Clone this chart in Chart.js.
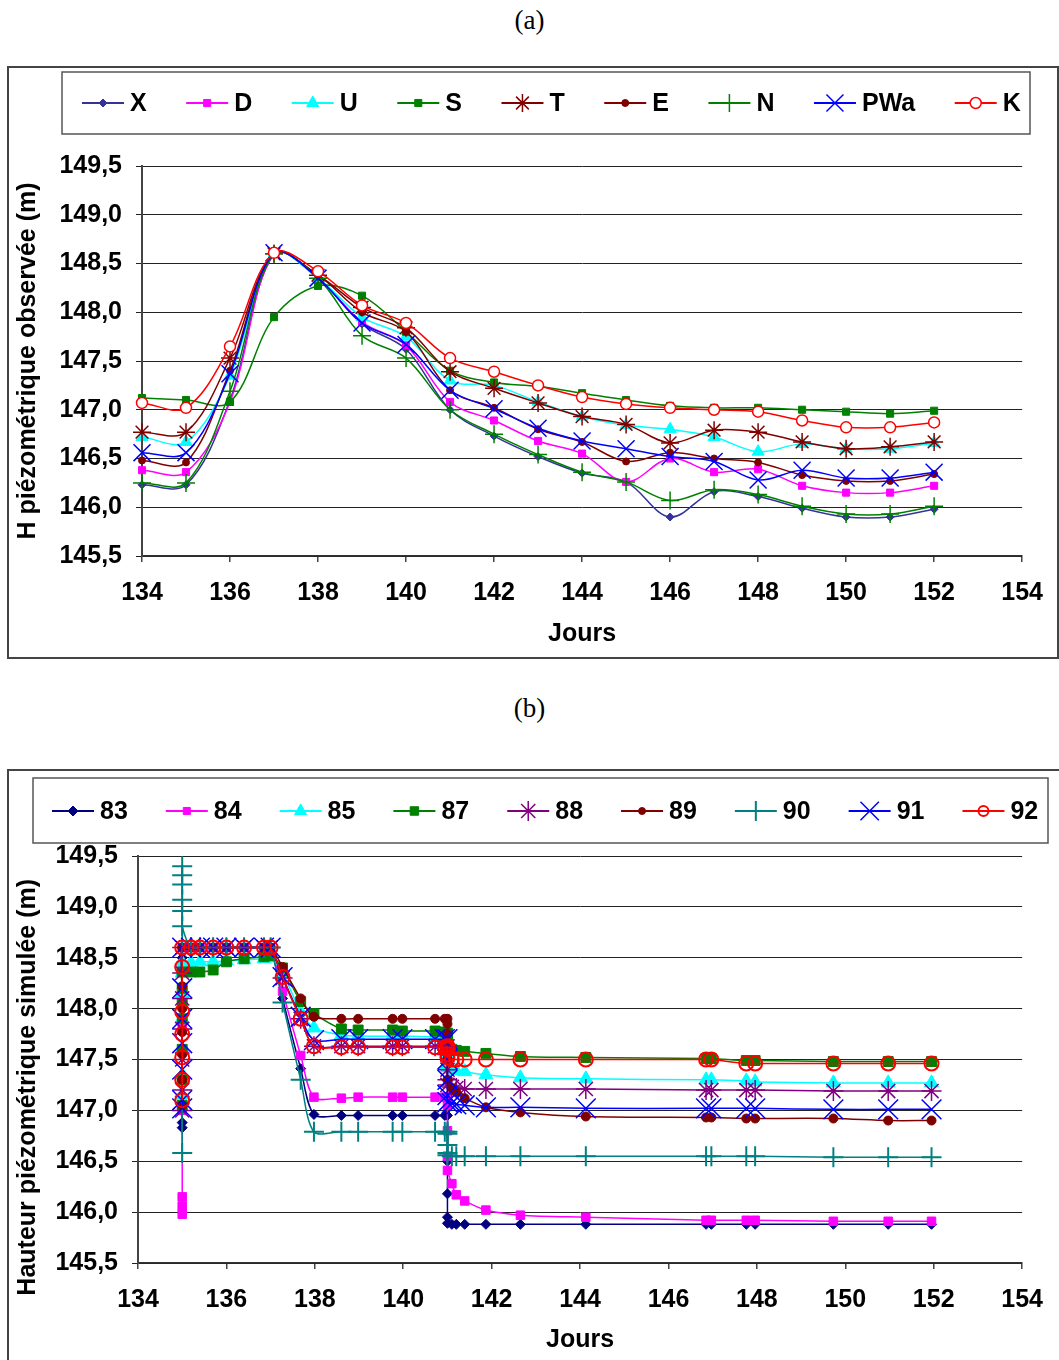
<!DOCTYPE html>
<html lang="fr">
<head>
<meta charset="utf-8">
<title>Hauteurs piézométriques observées et simulées</title>
<script src="https://cdn.jsdelivr.net/npm/chart.js@4.4.1/dist/chart.umd.min.js"></script>
<style>
  html, body { margin: 0; padding: 0; background: #fff; }
  body { width: 1059px; height: 1360px; position: relative; overflow: hidden; }
  .caption { position: absolute; left: 0; width: 1059px; text-align: center;
             font-family: "Liberation Serif", "Times New Roman", serif; font-size: 27px; line-height: 30px; }
  .frame { position: absolute; border: 2px solid #444; box-sizing: border-box; }
  canvas { position: absolute; left: 0; }
</style>
</head>
<body>
<div class="caption" style="top:5px">(a)</div>
<div class="frame" style="left:7px;top:66px;width:1052px;height:593px"></div>
<canvas id="chartA" width="1059" height="640" style="top:40px"></canvas>

<div class="caption" style="top:693px">(b)</div>
<div class="frame" style="left:7px;top:769px;width:1060px;height:600px"></div>
<canvas id="chartB" width="1059" height="620" style="top:740px"></canvas>

<script>
// ---- (a) observed heads, one value per day ----
const daysA = [134, 135, 136, 137, 138, 139, 140, 141, 142, 143, 144, 145, 146, 147, 148, 149, 150, 151, 152];
const obsX   = [146.23, 146.23, 147.10, 148.60, 148.35, 147.88, 147.62, 147.00, 146.73, 146.52, 146.35, 146.26, 145.90, 146.16, 146.11, 145.99, 145.90, 145.90, 145.98];
const obsD   = [146.38, 146.36, 147.08, 148.60, 148.35, 147.90, 147.66, 147.08, 146.89, 146.68, 146.55, 146.26, 146.50, 146.36, 146.39, 146.22, 146.15, 146.15, 146.22];
const obsU   = [146.72, 146.67, 147.35, 148.60, 148.35, 147.95, 147.75, 147.30, 147.25, 147.08, 146.93, 146.84, 146.80, 146.72, 146.57, 146.65, 146.60, 146.60, 146.66];
const obsS   = [147.12, 147.10, 147.08, 147.95, 148.27, 148.17, 147.80, 147.40, 147.28, 147.24, 147.17, 147.10, 147.04, 147.02, 147.02, 147.00, 146.98, 146.96, 146.99];
const obsT   = [146.77, 146.77, 147.53, 148.60, 148.38, 148.05, 147.84, 147.39, 147.22, 147.07, 146.93, 146.85, 146.66, 146.79, 146.77, 146.67, 146.60, 146.62, 146.67];
const obsE   = [146.48, 146.46, 147.40, 148.60, 148.38, 148.00, 147.80, 147.20, 147.02, 146.80, 146.67, 146.47, 146.56, 146.50, 146.46, 146.33, 146.27, 146.27, 146.34];
const obsN   = [146.25, 146.25, 147.19, 148.60, 148.35, 147.76, 147.53, 147.00, 146.75, 146.54, 146.36, 146.26, 146.07, 146.18, 146.13, 146.01, 145.93, 145.93, 146.01];
const obsPWa = [146.56, 146.56, 147.37, 148.61, 148.35, 147.89, 147.67, 147.20, 147.01, 146.81, 146.68, 146.60, 146.52, 146.47, 146.28, 146.38, 146.30, 146.30, 146.36];
const obsK   = [147.07, 147.02, 147.65, 148.61, 148.42, 148.07, 147.89, 147.53, 147.39, 147.25, 147.13, 147.06, 147.02, 147.00, 146.98, 146.89, 146.82, 146.82, 146.87];

// ---- (b) simulated heads, model output times (several values at the 135 and 141 steps) ----
const daysB = [135, 135, 135, 135, 135, 135, 135,
  135.2, 135.4, 135.7, 136.0, 136.4, 136.85, 137.0,
  137.27, 137.68, 137.98,
  138.6, 138.98, 139.76, 139.98, 140.72, 140.94,
  141, 141, 141, 141, 141,
  141.1, 141.2, 141.39, 141.87, 142.65, 144.13,
  146.85, 146.97, 147.76, 147.96, 149.73, 150.97, 151.95];
const sim83 = [146.83, 146.88, 147.30, 147.80, 148.20, 148.50, 148.60,
  148.60, 148.60, 148.60, 148.60, 148.60, 148.60, 148.60,
  148.10, 147.41, 146.96,
  146.95, 146.95, 146.95, 146.95, 146.95, 146.95,
  146.95, 146.50, 146.18, 145.95, 145.89,
  145.88, 145.88, 145.88, 145.88, 145.88, 145.88,
  145.88, 145.88, 145.88, 145.88, 145.88, 145.88, 145.88];
const sim84 = [145.98, 146.06, 146.15, 147.00, 147.80, 148.40, 148.60,
  148.60, 148.60, 148.60, 148.60, 148.60, 148.60, 148.60,
  148.17, 147.54, 147.13,
  147.12, 147.13, 147.13, 147.13, 147.13, 147.13,
  147.13, 147.05, 146.80, 146.55, 146.41,
  146.28, 146.17, 146.11, 146.02, 145.97, 145.95,
  145.92, 145.92, 145.92, 145.92, 145.91, 145.91, 145.91];
const sim85 = [147.15, 147.35, 147.60, 147.90, 148.15, 148.35, 148.45,
  148.45, 148.46, 148.46, 148.47, 148.48, 148.49, 148.50,
  148.35, 147.97, 147.81,
  147.74, 147.73, 147.73, 147.73, 147.72, 147.72,
  147.72, 147.65, 147.55, 147.45, 147.42,
  147.40, 147.39, 147.38, 147.35, 147.32, 147.31,
  147.30, 147.30, 147.29, 147.28, 147.27, 147.27, 147.27];
const sim87 = [147.05, 147.30, 147.60, 147.90, 148.05, 148.20, 148.36,
  148.36, 148.36, 148.38, 148.46, 148.49, 148.51, 148.52,
  148.40, 148.07, 147.95,
  147.80, 147.79, 147.79, 147.78, 147.78, 147.77,
  147.76, 147.72, 147.68, 147.65, 147.62,
  147.60, 147.59, 147.58, 147.56, 147.53, 147.52,
  147.51, 147.51, 147.49, 147.49, 147.48, 147.48, 147.48];
const sim88 = [147.00, 147.20, 147.50, 147.80, 148.10, 148.35, 148.60,
  148.60, 148.60, 148.60, 148.60, 148.60, 148.60, 148.60,
  148.30, 147.90, 147.63,
  147.63, 147.63, 147.63, 147.63, 147.63, 147.63,
  147.63, 147.55, 147.40, 147.30, 147.25,
  147.23, 147.22, 147.21, 147.21, 147.21, 147.21,
  147.20, 147.20, 147.20, 147.20, 147.19, 147.19, 147.19];
const sim89 = [147.05, 147.30, 147.55, 147.77, 148.00, 148.22, 148.60,
  148.60, 148.60, 148.60, 148.60, 148.60, 148.60, 148.60,
  148.41, 148.10, 147.92,
  147.90, 147.90, 147.90, 147.90, 147.90, 147.90,
  147.90, 147.85, 147.75, 147.50, 147.30,
  147.22, 147.18, 147.12, 147.03, 146.98, 146.94,
  146.93, 146.93, 146.92, 146.92, 146.92, 146.90, 146.90];
const sim90 = [146.58, 149.40, 149.31, 149.22, 149.07, 148.96, 148.81,
  148.60, 148.60, 148.60, 148.60, 148.60, 148.60, 148.60,
  148.06, 147.30, 146.79,
  146.79, 146.79, 146.79, 146.79, 146.79, 146.79,
  146.79, 146.77, 146.66, 146.58, 146.56,
  146.55, 146.55, 146.55, 146.55, 146.55, 146.55,
  146.55, 146.55, 146.55, 146.55, 146.54, 146.54, 146.54];
const sim91 = [147.02, 147.10, 147.40, 147.66, 147.90, 148.20, 148.60,
  148.60, 148.60, 148.60, 148.60, 148.60, 148.60, 148.60,
  148.31, 147.92, 147.69,
  147.70, 147.70, 147.70, 147.70, 147.70, 147.70,
  147.70, 147.50, 147.30, 147.15, 147.08,
  147.07, 147.06, 147.05, 147.03, 147.03, 147.02,
  147.02, 147.02, 147.02, 147.02, 147.01, 147.01, 147.01];
const sim92 = [147.10, 147.30, 147.52, 147.75, 147.97, 148.41, 148.60,
  148.60, 148.60, 148.60, 148.60, 148.60, 148.60, 148.60,
  148.31, 147.90, 147.63,
  147.62, 147.62, 147.62, 147.62, 147.62, 147.62,
  147.62, 147.63, 147.60, 147.55, 147.52,
  147.50, 147.50, 147.50, 147.50, 147.50, 147.50,
  147.50, 147.50, 147.46, 147.46, 147.46, 147.46, 147.46];

// axis ticks
const dayMin = 134, dayMax = 154, dayStep = 2;
const headMin = 145.5, headMax = 149.5, headStep = 0.5;

const FONT = '"Liberation Sans", Arial, sans-serif';
Chart.defaults.font.family = FONT;
Chart.defaults.color = '#000';

// legend drawn inside the canvas, Excel style: short line + marker + bold label
const boxLegend = {
  id: 'boxLegend',
  afterDraw(chart, args, opts) {
    const ctx = chart.ctx;
    ctx.save();
    ctx.strokeStyle = '#555';
    ctx.lineWidth = 1.5;
    ctx.strokeRect(opts.box[0], opts.box[1], opts.box[2], opts.box[3]);
    ctx.font = 'bold 25px ' + FONT;
    ctx.textBaseline = 'middle';
    let x = opts.startX;
    const y = opts.y;
    chart.data.datasets.forEach(ds => {
      ctx.strokeStyle = ds.borderColor;
      ctx.lineWidth = 2;
      ctx.beginPath();
      ctx.moveTo(x, y);
      ctx.lineTo(x + 42, y);
      ctx.stroke();
      ctx.fillStyle = ds.pointBackgroundColor;
      ctx.strokeStyle = ds.pointBorderColor;
      ctx.lineWidth = ds.pointBorderWidth;
      Chart.helpers.drawPoint(ctx, {
        pointStyle: ds.pointStyle, radius: ds.legendRadius,
        rotation: 0, borderWidth: ds.pointBorderWidth
      }, x + 21, y);
      ctx.fillStyle = '#000';
      ctx.fillText(ds.label, x + 48, y + 1);
      x += 48 + ctx.measureText(ds.label).width + opts.gap;
    });
    ctx.restore();
  }
};

function makeDataset(label, days, values, st, i, n) {
  return {
    label: label,
    data: days.map((d, k) => ({ x: d, y: values[k] })),
    showLine: true,
    borderColor: st.line,
    borderWidth: 1.5,
    tension: st.tension,
    pointStyle: st.marker,
    pointRadius: st.r,
    pointHoverRadius: st.r,
    legendRadius: st.lr || st.r,
    pointBackgroundColor: st.fill,
    pointBorderColor: st.stroke || st.fill,
    pointBorderWidth: st.bw || 1,
    order: n - i,
    clip: 14
  };
}

function scales(xTitleH, xTitlePad, yTitle, yWidth) {
  const tickFont = { size: 25, weight: 'bold', family: FONT };
  return {
    x: {
      type: 'linear', min: dayMin, max: dayMax,
      ticks: { stepSize: dayStep, font: tickFont, padding: 16, maxRotation: 0, autoSkip: false, color: '#000' },
      grid: { drawOnChartArea: false, drawTicks: true, tickLength: 6, color: '#444', lineWidth: 1.5 },
      border: { color: '#333', width: 1.5 },
      title: { display: true, text: 'Jours', color: '#000', font: tickFont, padding: { top: 0, bottom: xTitlePad } },
      afterFit: s => { s.height = xTitleH; }
    },
    y: {
      type: 'linear', min: headMin, max: headMax,
      ticks: { stepSize: headStep, font: tickFont, padding: 14, color: '#000',
               callback: v => v.toFixed(1).replace('.', ',') },
      grid: { color: '#222', lineWidth: 1, tickLength: 6 },
      border: { color: '#444', width: 2 },
      title: { display: true, text: yTitle, color: '#000',
               font: { size: 25, weight: 'bold', family: FONT }, padding: { top: 13, bottom: 0 } },
      afterFit: s => { s.width = yWidth; }
    }
  };
}

// ---------- chart (a) ----------
const stylesA = [
  { marker: 'rectRot', r: 4, line: '#333399', fill: '#333399', tension: 0.35 },
  { marker: 'rect', r: 5, line: '#ff00ff', fill: '#ff00ff', tension: 0.35 },
  { marker: 'triangle', r: 7, line: '#00ffff', fill: '#00ffff', tension: 0.35 },
  { marker: 'rect', r: 5, line: '#008000', fill: '#008000', tension: 0.35 },
  { marker: 'star', r: 9, line: '#800000', fill: '#800000', bw: 1.5, tension: 0.35 },
  { marker: 'circle', r: 3.5, line: '#800000', fill: '#800000', tension: 0.35 },
  { marker: 'cross', r: 9, line: '#008000', fill: '#008000', bw: 1.5, tension: 0.35 },
  { marker: 'crossRot', r: 12, line: '#0000ff', fill: '#0000ff', bw: 1.5, tension: 0.35 },
  { marker: 'circle', r: 5.5, line: '#ff0000', fill: '#ffffff', stroke: '#ff0000', bw: 1.5, tension: 0.35 }
];
const labelsA = ['X', 'D', 'U', 'S', 'T', 'E', 'N', 'PWa', 'K'];
const valuesA = [obsX, obsD, obsU, obsS, obsT, obsE, obsN, obsPWa, obsK];

new Chart(document.getElementById('chartA'), {
  type: 'scatter',
  data: { datasets: labelsA.map((l, i) => makeDataset(l, daysA, valuesA[i], stylesA[i], i, labelsA.length)) },
  options: {
    responsive: false,
    animation: false,
    layout: { padding: { left: 0, right: 27, top: 126, bottom: 0 } },
    scales: scales(124, 31, 'H piézométrique observée (m)', 142),
    plugins: {
      legend: { display: false },
      tooltip: { enabled: false },
      boxLegend: { box: [62, 32, 968, 62], startX: 82, y: 63, gap: 39.5 }
    }
  },
  plugins: [boxLegend]
});

// ---------- chart (b) ----------
const stylesB = [
  { marker: 'rectRot', r: 5, lr: 5, line: '#000080', fill: '#000080', tension: 0.3 },
  { marker: 'rect', r: 6, lr: 5, line: '#ff00ff', fill: '#ff00ff', tension: 0.3 },
  { marker: 'triangle', r: 8, lr: 7, line: '#00ffff', fill: '#00ffff', tension: 0.3 },
  { marker: 'rect', r: 7, lr: 6, line: '#008000', fill: '#008000', tension: 0.3 },
  { marker: 'star', r: 10, lr: 10, line: '#800080', fill: '#800080', bw: 1.5, tension: 0.3 },
  { marker: 'circle', r: 4.5, lr: 3.5, line: '#800000', fill: '#800000', tension: 0.3 },
  { marker: 'cross', r: 10, lr: 10, line: '#008080', fill: '#008080', bw: 2, tension: 0.3 },
  { marker: 'crossRot', r: 14, lr: 13, line: '#0000ff', fill: '#0000ff', bw: 1.5, tension: 0.3 },
  { marker: 'circle', r: 7, lr: 5, line: '#ff0000', fill: 'rgba(255,255,255,0)', stroke: '#ff0000', bw: 2, tension: 0.3 }
];
const labelsB = ['83', '84', '85', '87', '88', '89', '90', '91', '92'];
const valuesB = [sim83, sim84, sim85, sim87, sim88, sim89, sim90, sim91, sim92];

new Chart(document.getElementById('chartB'), {
  type: 'scatter',
  data: { datasets: labelsB.map((l, i) => makeDataset(l, daysB, valuesB[i], stylesB[i], i, labelsB.length)) },
  options: {
    responsive: false,
    animation: false,
    layout: { padding: { left: 0, right: 22, top: 116, bottom: 0 } },
    // trailing no-break spaces shift the rotated title down, as in the original
    scales: scales(97, 5, 'Hauteur piézométrique simulée (m)' + '\u00a0'.repeat(8), 138),
    plugins: {
      legend: { display: false },
      tooltip: { enabled: false },
      boxLegend: { box: [33, 38, 1015, 65], startX: 52, y: 71, gap: 38 }
    }
  },
  plugins: [boxLegend]
});
</script>
</body>
</html>
